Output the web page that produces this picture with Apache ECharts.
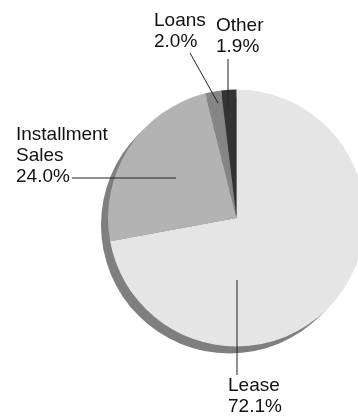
<!DOCTYPE html>
<html>
<head>
<meta charset="utf-8">
<script src="https://cdn.jsdelivr.net/npm/echarts@6/dist/echarts.min.js"></script>
<style>
html,body{margin:0;padding:0;background:#fff;}
#main{width:358px;height:416px;}
</style>
</head>
<body>
<div id="main"></div>
<script>
// Data
const categories = ['Lease', 'Installment\nSales', 'Loans', 'Other'];
const shares = [72.1, 24.0, 2.0, 1.9];
const sliceColors = ['#e5e5e5', '#b3b3b3', '#858585', '#333333'];

// Layout (not data)
const CX = 236.5, CY = 218, R = 128.5;
const SHADOW_DX = -7, SHADOW_DY = 7;
// label box (left, top) and leader line points, relative to the pie centre
const labelPlacement = [
  { x: -8.5, y: 157.5, line: [[0.5, 157], [0.5, 62]] },
  { x: -220.5, y: -94, line: [[-164.5, -40], [-60.5, -40]] },
  { x: -82.5, y: -208, line: [[-46.5, -165], [-18.5, -115]] },
  { x: -20.5, y: -203, line: [[-8.5, -159], [-8.5, -113]] }
];

const chart = echarts.init(document.getElementById('main'), null, { renderer: 'canvas' });
chart.setOption({
  animation: false,
  backgroundColor: '#ffffff',
  graphic: labelPlacement.map(pl => ({
    type: 'polyline',
    silent: true,
    z: 10,
    shape: { points: pl.line.map(p => [CX + p[0], CY + p[1]]) },
    style: { stroke: '#222', lineWidth: 1, fill: null }
  })),
  series: [
    {
      type: 'pie',
      silent: true,
      center: [CX + SHADOW_DX, CY + SHADOW_DY],
      radius: R,
      label: { show: false },
      labelLine: { show: false },
      itemStyle: { color: '#7f7f7f', borderWidth: 0 },
      data: [{ value: shares.reduce((a, b) => a + b, 0), name: 'shadow' }]
    },
    {
      type: 'pie',
      center: [CX, CY],
      radius: R,
      startAngle: 90,
      clockwise: true,
      avoidLabelOverlap: false,
      itemStyle: { borderWidth: 0 },
      data: categories.map((c, i) => ({ name: c, value: shares[i], itemStyle: { color: sliceColors[i] } })),
      label: {
        show: true,
        position: 'outside',
        fontFamily: 'Liberation Sans, Arial, sans-serif',
        fontSize: 19,
        lineHeight: 21,
        color: '#111',
        align: 'left',
        formatter: p => p.name + '\n' + p.value.toFixed(1) + '%'
      },
      labelLine: { show: false },
      labelLayout: function (params) {
        const pl = labelPlacement[params.dataIndex];
        return {
          x: CX + pl.x,
          y: CY + pl.y,
          align: 'left',
          verticalAlign: 'top'
        };
      }
    }
  ]
});
</script>
</body>
</html>
